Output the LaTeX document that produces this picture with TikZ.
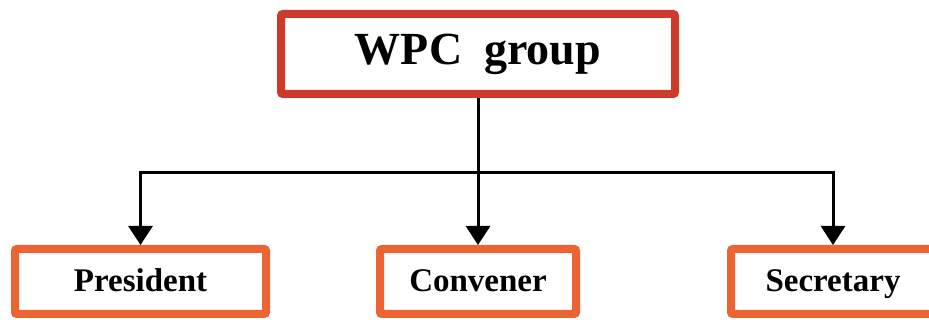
\documentclass[tikz,border=0pt]{standalone}
\usepackage{fontspec}
\setmainfont{Liberation Serif}
\usetikzlibrary{arrows.meta}
\definecolor{topred}{HTML}{CC3B2A}
\definecolor{boxorange}{HTML}{EC6432}
\begin{document}
\begin{tikzpicture}[x=1pt,y=1pt,
  topbox/.style={draw=topred, fill=white, line width=8pt, rounded corners=2pt, minimum width=394pt, minimum height=80pt, inner sep=0pt, text height=34pt, text depth=12pt, font=\bfseries\fontsize{46}{46}\selectfont},
  rolebox/.style={draw=boxorange, fill=white, line width=8pt, rounded corners=2pt, minimum height=65pt, inner sep=0pt, text height=25pt, text depth=4pt, font=\bfseries\fontsize{33}{33}\selectfont},
  link/.style={line width=3pt, -{Triangle[width=24pt,length=19pt]}}]
  \useasboundingbox (0,0) rectangle (929,320);
  \clip (0,0) rectangle (929,320);
  \node[topbox] (top) at (478,266) {WPC\hspace{22pt}group};
  \node[rolebox, minimum width=251pt] (pres) at (140.5,38.5) {President};
  \node[rolebox, minimum width=196pt] (conv) at (478,38.5) {Convener};
  \node[rolebox, minimum width=204pt] (secr) at (833,38.5) {Secretary};
  \coordinate (bar) at (478,147);
  \draw[link] (top.south) -- (conv.north);
  \draw[link] (bar) -| (pres.north);
  \draw[link] (bar) -| (secr.north);
\end{tikzpicture}
\end{document}
